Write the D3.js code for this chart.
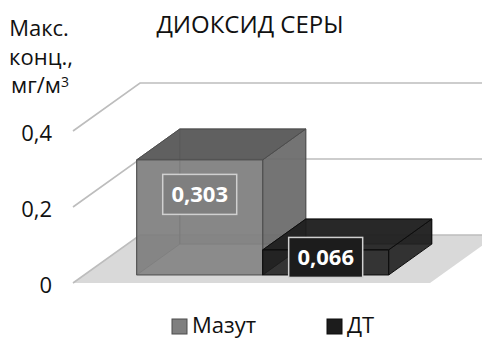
<!DOCTYPE html>
<html>
<head>
<meta charset="utf-8">
<script src="https://cdn.jsdelivr.net/npm/d3@7"></script>
<style>
  body { margin: 0; background: #fff; }
  text { font-family: "Open Sans", "Noto Sans", sans-serif; }
</style>
</head>
<body>
<svg id="chart" width="482" height="339"></svg>
<script>
// data
const categories = ["Мазут", "ДТ"];
const values = [0.303, 0.066];
const valueLabels = ["0,303", "0,066"];
const yTicks = [0, 0.2, 0.4];
const yTickLabels = ["0", "0,2", "0,4"];

// colours for the three visible faces of each bar
const faceColors = [
  { front: "#7f7f7f", top: "#585858", side: "#6a6a6a", edge: "#4d4d4d" },
  { front: "#1c1c1c", top: "#202020", side: "#1a1a1a", edge: "#0d0d0d" }
];

const svg = d3.select("#chart");

// floor origin (front-left corner) and depth vector
const ox = 73, depthX = 67, depthY = -48;
const plotW = 357;
const zFront = 0.167, zBack = 0.81;

const x = d3.scaleBand().domain(categories).range([0, plotW])
  .paddingInner(0).paddingOuter(0.417);
const y = d3.scaleLinear().domain([0, 0.4]).range([283, 131]);

const proj = (xv, v, z) => [ox + xv + depthX * z, y(v) + depthY * z];
const poly = pts => pts.map(p => p.join(",")).join(" ");

// floor
svg.append("polygon")
  .attr("points", poly([proj(0, 0, 0), proj(plotW, 0, 0), proj(plotW, 0, 1), proj(0, 0, 1)]))
  .attr("fill", "#d9d9d9");

// gridlines: left wall slant + back wall line
const grid = svg.append("g");
yTicks.forEach(t => {
  const a = proj(0, t, 0), b = proj(0, t, 1), c = proj(plotW, t, 1);
  grid.append("polyline")
    .attr("points", poly([a, b, c]))
    .attr("fill", "none")
    .attr("stroke", "#bdbdbd")
    .attr("stroke-width", 1.6);
});

// tick labels
svg.append("g").selectAll("text")
  .data(yTicks)
  .join("text")
  .attr("x", 52)
  .attr("y", d => y(d) + 10)
  .attr("text-anchor", "end")
  .attr("font-size", 22)
  .attr("fill", "#111")
  .text((d, i) => yTickLabels[i]);

// bars
const bars = svg.append("g");
categories.forEach((cat, i) => {
  const x0 = x(cat), x1 = x0 + x.bandwidth(), v = values[i];
  const col = faceColors[i];
  const g = bars.append("g");
  const P = (xx, vv, zz) => proj(xx, vv, zz);

  // hidden back faces (seen through the semi-transparent bar)
  g.append("polygon")
    .attr("points", poly([P(x0, 0, zBack), P(x1, 0, zBack), P(x1, v, zBack), P(x0, v, zBack)]))
    .attr("fill", col.front).attr("fill-opacity", 0.5)
    .attr("stroke", col.edge).attr("stroke-width", 1).attr("stroke-opacity", 0.6);
  g.append("polygon")
    .attr("points", poly([P(x0, 0, zFront), P(x0, 0, zBack), P(x0, v, zBack), P(x0, v, zFront)]))
    .attr("fill", col.side).attr("fill-opacity", 0.4)
    .attr("stroke", col.edge).attr("stroke-width", 1).attr("stroke-opacity", 0.6);

  // right side
  g.append("polygon")
    .attr("points", poly([P(x1, 0, zFront), P(x1, 0, zBack), P(x1, v, zBack), P(x1, v, zFront)]))
    .attr("fill", col.side).attr("fill-opacity", 0.88)
    .attr("stroke", col.edge).attr("stroke-width", 1);
  // top
  g.append("polygon")
    .attr("points", poly([P(x0, v, zFront), P(x1, v, zFront), P(x1, v, zBack), P(x0, v, zBack)]))
    .attr("fill", col.top).attr("fill-opacity", 0.92)
    .attr("stroke", col.edge).attr("stroke-width", 1);
  // front
  g.append("polygon")
    .attr("points", poly([P(x0, 0, zFront), P(x1, 0, zFront), P(x1, v, zFront), P(x0, v, zFront)]))
    .attr("fill", col.front).attr("fill-opacity", 0.88)
    .attr("stroke", col.edge).attr("stroke-width", 1);

  // value label
  const c = P((x0 + x1) / 2, v * 0.7, zFront);
  const lbl = g.append("g").attr("transform", `translate(${c[0]},${c[1]})`);
  lbl.append("rect")
    .attr("x", -37).attr("y", -20).attr("width", 74).attr("height", 40)
    .attr("fill", col.front)
    .attr("stroke", "#d0d0d0").attr("stroke-width", 1.5);
  lbl.append("text")
    .attr("text-anchor", "middle")
    .attr("y", 8)
    .attr("font-size", 22)
    .attr("font-weight", "bold")
    .attr("fill", "#fff")
    .text(valueLabels[i]);
});

// title
svg.append("text")
  .attr("x", 250).attr("y", 33)
  .attr("text-anchor", "middle")
  .attr("font-size", 24)
  .attr("fill", "#111")
  .text("ДИОКСИД СЕРЫ");

// axis title
const yt = svg.append("text")
  .attr("text-anchor", "middle")
  .attr("font-size", 22)
  .attr("fill", "#111");
yt.append("tspan").attr("x", 39).attr("y", 36).text("Макс.");
yt.append("tspan").attr("x", 41).attr("y", 65).text("конц.,");
const t3 = yt.append("tspan").attr("x", 40).attr("y", 93);
t3.append("tspan").text("мг/м");
t3.append("tspan").attr("dy", -6).attr("font-size", 14).text("3");

// legend
const legendX = [172, 327];
const legend = svg.append("g").selectAll("g")
  .data(categories)
  .join("g")
  .attr("transform", (d, i) => `translate(${legendX[i]},319)`);
legend.append("rect")
  .attr("width", 15).attr("height", 15)
  .attr("fill", (d, i) => faceColors[i].front)
  .attr("stroke", (d, i) => faceColors[i].edge)
  .attr("stroke-width", 1);
legend.append("text")
  .attr("x", 20).attr("y", 14)
  .attr("font-size", 22)
  .attr("fill", "#111")
  .text(d => d);
</script>
</body>
</html>
